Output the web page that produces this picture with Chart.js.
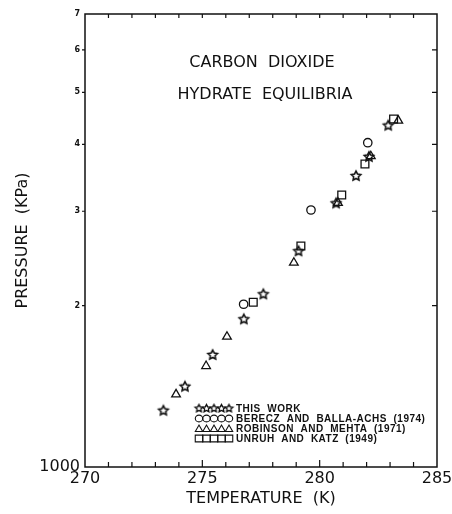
<!DOCTYPE html>
<html>
<head>
<meta charset="utf-8">
<script src="https://cdn.jsdelivr.net/npm/chart.js@4.4.1/dist/chart.umd.min.js"></script>
<style>
  html, body { margin: 0; background: #fff; }
  #wrap { width: 452px; height: 514px; }
</style>
</head>
<body>
<div id="wrap"><canvas id="myChart"></canvas></div>
<script>
// temperature (K) / pressure (kPa)
const thisWorkT = [273.34, 274.26, 275.44, 276.77, 277.60, 279.10, 280.70, 281.55, 282.10, 282.92];
const thisWorkP = [1274, 1412, 1618, 1886, 2100, 2527, 3104, 3490, 3790, 4334];
const bereczT = [276.76, 279.63, 282.05];
const bereczP = [2012, 3016, 4027];
const robinsonT = [273.88, 275.16, 276.05, 278.90, 280.78, 282.18, 283.35];
const robinsonP = [1366, 1543, 1750, 2405, 3110, 3800, 4427];
const unruhT = [277.17, 279.20, 280.94, 281.93, 283.15];
const unruhP = [2029, 2584, 3218, 3675, 4460];

const yTickValues = [1000, 2000, 3000, 4000, 5000, 6000, 7000];
const xTickLabels = [270, 275, 280, 285];
const titleLines = ['CARBON  DIOXIDE', 'HYDRATE  EQUILIBRIA'];
const seriesLabels = [
  'THIS  WORK',
  'BERECZ  AND  BALLA-ACHS  (1974)',
  'ROBINSON  AND  MEHTA  (1971)',
  'UNRUH  AND  KATZ  (1949)'
];

const ink = '#111';

function makeStar(r, lw) {
  const c = document.createElement('canvas');
  const s = Math.ceil(r * 2 + lw * 2 + 2);
  c.width = c.height = s;
  const g = c.getContext('2d');
  g.beginPath();
  for (let i = 0; i < 10; i++) {
    const rr = i % 2 ? r * 0.5 : r;
    const a = -Math.PI / 2 + i * Math.PI / 5;
    g.lineTo(s / 2 + rr * Math.cos(a), s / 2 + rr * Math.sin(a));
  }
  g.closePath();
  g.lineWidth = lw;
  g.strokeStyle = ink;
  g.stroke();
  return c;
}

const starImg = makeStar(5, 1.6);
const starSmall = makeStar(4, 1.4);

function pts(xs, ys) {
  return xs.map((x, i) => ({ x: x, y: ys[i] }));
}

function marker(style, radius) {
  return {
    pointStyle: style,
    pointRadius: radius,
    pointHoverRadius: radius,
    pointBorderColor: ink,
    pointBackgroundColor: 'rgba(0,0,0,0)',
    pointBorderWidth: 1.3,
    showLine: false
  };
}

const decor = {
  id: 'decor',
  afterDraw(chart) {
    const ctx = chart.ctx;
    const a = chart.chartArea;
    const xs = chart.scales.x, ys = chart.scales.y;
    ctx.save();
    ctx.strokeStyle = ink;
    ctx.lineWidth = 1.5;
    ctx.strokeRect(a.left, a.top, a.right - a.left, a.bottom - a.top);

    ctx.lineWidth = 1.2;
    ctx.beginPath();
    for (let t = 271; t < 285; t++) {
      const px = xs.getPixelForValue(t);
      const len = t % 5 === 0 ? 7 : 5;
      ctx.moveTo(px, a.bottom);
      ctx.lineTo(px, a.bottom - len);
      ctx.moveTo(px, a.top);
      ctx.lineTo(px, a.top + 4);
    }
    yTickValues.slice(1, -1).forEach(v => {
      const py = ys.getPixelForValue(v);
      ctx.moveTo(a.left - 3, py);
      ctx.lineTo(a.left, py);
      ctx.moveTo(a.right - 5, py);
      ctx.lineTo(a.right, py);
    });
    ctx.stroke();

    // heading inside the plot
    ctx.fillStyle = ink;
    ctx.font = '16px "DejaVu Sans"';
    ctx.textAlign = 'center';
    ctx.textBaseline = 'middle';
    ctx.fillText(titleLines[0], 262, 63);
    ctx.fillText(titleLines[1], 265, 95);

    // legend with repeated markers
    const rows = [408.5, 418.5, 428.5, 438.5];
    ctx.font = 'bold 10px "Liberation Sans"';
    ctx.letterSpacing = '0.5px';
    ctx.textAlign = 'left';
    ctx.lineWidth = 1.1;
    rows.forEach((ry, k) => {
      for (let i = 0; i < 5; i++) {
        const mx = 199 + i * 7.5;
        ctx.beginPath();
        if (k === 0) {
          ctx.drawImage(starSmall, mx - starSmall.width / 2, ry - starSmall.height / 2);
          continue;
        } else if (k === 1) {
          ctx.ellipse(mx, ry, 3.7, 3.4, 0, 0, Math.PI * 2);
        } else if (k === 2) {
          ctx.moveTo(mx - 3.7, ry + 3);
          ctx.lineTo(mx, ry - 3.5);
          ctx.lineTo(mx + 3.7, ry + 3);
          ctx.closePath();
        } else {
          ctx.rect(mx - 3.75, ry - 3.4, 7.5, 6.8);
        }
        ctx.stroke();
      }
      ctx.fillText(seriesLabels[k], 236, ry + 0.5);
    });
    ctx.restore();
  }
};

new Chart(document.getElementById('myChart'), {
  type: 'scatter',
  data: {
    datasets: [
      Object.assign({ label: seriesLabels[0], data: pts(thisWorkT, thisWorkP) }, marker(starImg, 5)),
      Object.assign({ label: seriesLabels[1], data: pts(bereczT, bereczP) }, marker('circle', 4.2)),
      Object.assign({ label: seriesLabels[2], data: pts(robinsonT, robinsonP) }, marker('triangle', 5)),
      Object.assign({ label: seriesLabels[3], data: pts(unruhT, unruhP) }, marker('rect', 5.5))
    ]
  },
  options: {
    responsive: true,
    maintainAspectRatio: false,
    animation: false,
    layout: { padding: { left: 0, right: 15, top: 14, bottom: 0 } },
    plugins: {
      legend: { display: false },
      tooltip: { enabled: false }
    },
    scales: {
      x: {
        type: 'linear',
        min: 270,
        max: 285,
        afterFit: s => { s.height = 47; s.paddingRight = 0; s.paddingLeft = 0; },
        grid: { display: false, drawTicks: false },
        border: { display: false },
        ticks: {
          stepSize: 1,
          autoSkip: false,
          maxRotation: 0,
          padding: 2,
          color: ink,
          font: { family: 'DejaVu Sans', size: 16 },
          callback: v => xTickLabels.includes(v) ? String(v) : ''
        },
        title: {
          display: true,
          text: 'TEMPERATURE  (K)',
          color: ink,
          font: { family: 'DejaVu Sans', size: 16 },
          padding: { top: 0, bottom: 6 }
        }
      },
      y: {
        type: 'logarithmic',
        min: 1000,
        max: 7000,
        afterFit: s => { s.width = 85; },
        afterBuildTicks: s => { s.ticks = yTickValues.map(v => ({ value: v })); },
        grid: { display: false, drawTicks: false },
        border: { display: false },
        ticks: {
          padding: 5,
          color: ink,
          font: c => (c.tick && c.tick.value === 1000)
            ? { family: 'DejaVu Sans', size: 16 }
            : { family: 'DejaVu Sans', size: 8, weight: 'bold' },
          callback: v => v === 1000 ? '1000' : String(v / 1000)
        },
        title: {
          display: true,
          text: 'PRESSURE  (KPa)',
          color: ink,
          font: { family: 'DejaVu Sans', size: 16 },
          padding: { top: 13, bottom: 0 }
        }
      }
    }
  },
  plugins: [decor]
});
</script>
</body>
</html>
